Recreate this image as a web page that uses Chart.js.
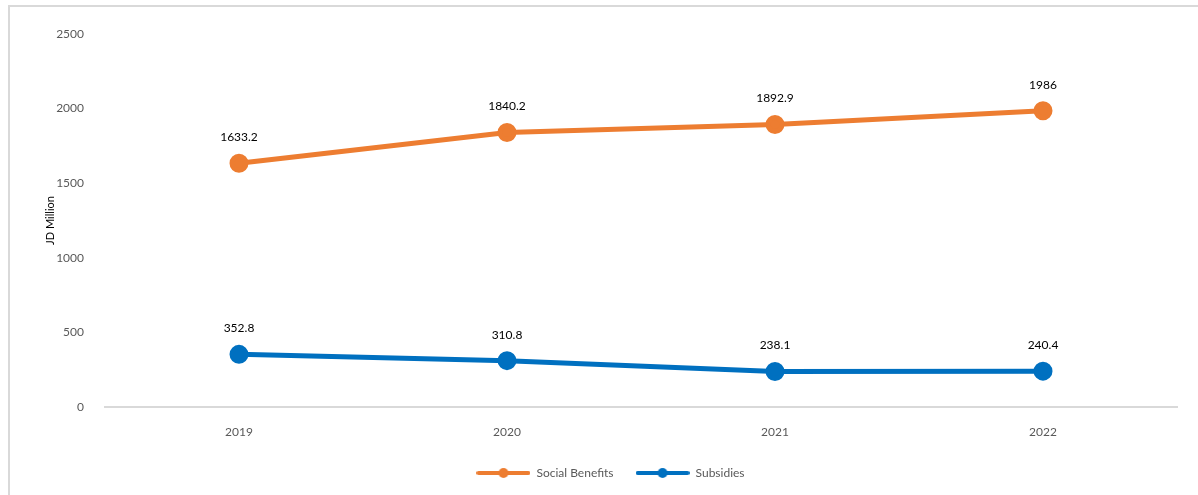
<!DOCTYPE html>
<html>
<head>
<meta charset="utf-8">
<script src="https://cdn.jsdelivr.net/npm/chart.js@4/dist/chart.umd.min.js"></script>
<style>
  html, body { margin: 0; padding: 0; background: #fff; overflow: hidden; }
  #wrap { position: relative; width: 1198px; height: 495px; }
  #frame { position: absolute; left: 8px; top: 5px; width: 1200px; height: 500px; border: 2px solid #d9d9d9; box-sizing: border-box; }
  #chart { position: absolute; left: 0; top: 0; }
</style>
</head>
<body>
<div id="wrap">
  <div id="frame"></div>
  <canvas id="chart" width="1198" height="495"></canvas>
</div>
<script>
const years = ['2019', '2020', '2021', '2022'];
const socialBenefits = [1633.2, 1840.2, 1892.9, 1986];
const subsidies = [352.8, 310.8, 238.1, 240.4];

const ORANGE = '#ED7D31';
const BLUE = '#0070C0';
const FONT = 'Lato, "Open Sans", sans-serif';

// legend marker: a short line with a dot in the middle
function legendMarker(color) {
  const c = document.createElement('canvas');
  c.width = 54; c.height = 12;
  const g = c.getContext('2d');
  g.strokeStyle = color;
  g.lineWidth = 4;
  g.lineCap = 'round';
  g.beginPath(); g.moveTo(2, 6); g.lineTo(52, 6); g.stroke();
  g.fillStyle = color;
  g.beginPath(); g.arc(27, 6, 5, 0, Math.PI * 2); g.fill();
  return c;
}

// value labels above each point
const valueLabels = {
  id: 'valueLabels',
  afterDatasetsDraw(chart) {
    const ctx = chart.ctx;
    ctx.save();
    ctx.font = '12px ' + FONT;
    ctx.fillStyle = '#000';
    ctx.textAlign = 'center';
    ctx.textBaseline = 'middle';
    chart.data.datasets.forEach((ds, i) => {
      chart.getDatasetMeta(i).data.forEach((pt, j) => {
        ctx.fillText(String(ds.data[j]), pt.x, pt.y - 26);
      });
    });
    ctx.restore();
  }
};

new Chart(document.getElementById('chart'), {
  type: 'line',
  data: {
    labels: years,
    datasets: [
      {
        label: 'Social Benefits',
        data: socialBenefits,
        borderColor: ORANGE,
        backgroundColor: ORANGE,
        borderWidth: 5,
        pointRadius: 7,
        pointHoverRadius: 7
      },
      {
        label: 'Subsidies',
        data: subsidies,
        borderColor: BLUE,
        backgroundColor: BLUE,
        borderWidth: 5,
        pointRadius: 7,
        pointHoverRadius: 7
      }
    ]
  },
  options: {
    responsive: false,
    animation: false,
    layout: { padding: { left: 44, right: 21, top: 34, bottom: 6 } },
    elements: { point: { pointStyle: 'circle', borderWidth: 0 } },
    plugins: {
      tooltip: { enabled: false },
      legend: {
        position: 'bottom',
        labels: {
          usePointStyle: true,
          pointStyleWidth: 54,
          boxHeight: 12,
          padding: 22,
          color: '#595959',
          font: { family: FONT, size: 12 },
          generateLabels(chart) {
            return chart.data.datasets.map((ds, i) => ({
              text: ds.label,
              pointStyle: legendMarker(ds.borderColor),
              fillStyle: ds.borderColor,
              strokeStyle: ds.borderColor,
              lineWidth: 0,
              hidden: false,
              datasetIndex: i,
              fontColor: '#595959'
            }));
          }
        }
      }
    },
    scales: {
      x: {
        offset: true,
        grid: { display: false },
        border: { display: true, color: '#d9d9d9', width: 2 },
        ticks: { color: '#595959', padding: 10, font: { family: FONT, size: 12 } },
        afterFit(scale) { scale.height = 38; }
      },
      y: {
        min: 0,
        max: 2500,
        grid: { display: false },
        border: { display: false },
        ticks: {
          stepSize: 500,
          color: '#595959',
          padding: 13,
          font: { family: FONT, size: 12 },
          callback: v => String(v)
        },
        title: { display: true, text: 'JD Million', color: '#000', font: { family: FONT, size: 11 }, padding: 0 },
        afterFit(scale) { scale.width = 61; }
      }
    }
  },
  plugins: [valueLabels]
});
</script>
</body>
</html>
